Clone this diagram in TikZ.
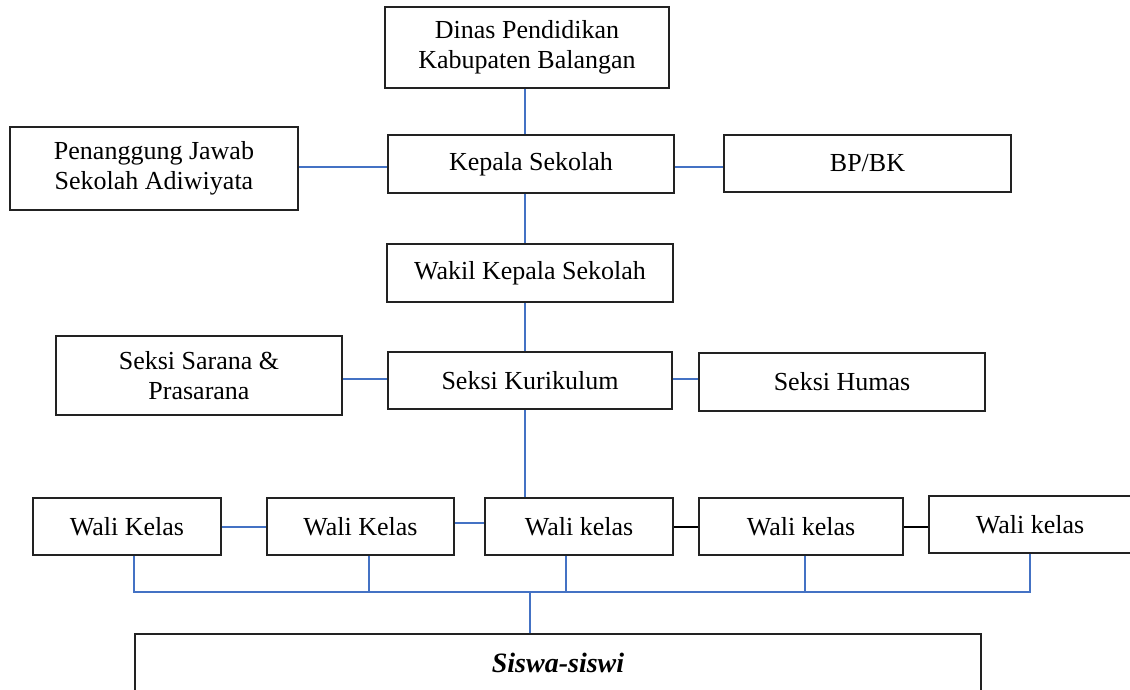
\documentclass[tikz,border=0pt]{standalone}
\usepackage{fontspec}
\setmainfont{Liberation Serif}
\usetikzlibrary{calc}
\definecolor{lineblue}{HTML}{4472C4}
\definecolor{boxline}{HTML}{222222}
\tikzset{
  orgbox/.style={draw=boxline, line width=1.5pt, fill=white, inner sep=0pt, align=center,
    font=\fontsize{26}{30}\selectfont},
  blueline/.style={draw=lineblue, line width=2pt},
  blackline/.style={draw=black, line width=2pt},
}
\begin{document}
\begin{tikzpicture}[x=1pt,y=-1pt]
\clip (0,0) rectangle (1130,689);
\fill[white] (0,0) rectangle (1130,689);
% guide coordinates
\coordinate (spine) at (525,0);
\coordinate (busy) at (0,592);
\coordinate (ky) at (0,167);
\coordinate (sy) at (0,379);
\coordinate (wy) at (0,523);
% boxes
\node[orgbox, minimum width=284pt, minimum height=81pt] (dinas) at (527,47.5) {Dinas Pendidikan\\Kabupaten Balangan};
\node[orgbox, minimum width=286pt, minimum height=58pt] (kepala) at (531,164) {Kepala Sekolah};
\node[orgbox, minimum width=288pt, minimum height=83pt] (pj) at (154,168.5) {Penanggung Jawab\\Sekolah Adiwiyata};
\node[orgbox, minimum width=287pt, minimum height=57pt] (bpbk) at (867.5,163.5) {BP/BK};
\node[orgbox, minimum width=286pt, minimum height=58pt] (wakil) at (530,273) {Wakil Kepala Sekolah};
\node[orgbox, minimum width=286pt, minimum height=79pt] (sarana) at (199,375.5) {Seksi Sarana \&\\Prasarana};
\node[orgbox, minimum width=284pt, minimum height=57pt] (kurikulum) at (530,380.5) {Seksi Kurikulum};
\node[orgbox, minimum width=286pt, minimum height=58pt] (humas) at (842,382) {Seksi Humas};
\node[orgbox, minimum width=188pt, minimum height=57pt] (w1) at (127,526.5) {Wali Kelas};
\node[orgbox, minimum width=187pt, minimum height=57pt] (w2) at (360.5,526.5) {Wali Kelas};
\node[orgbox, minimum width=188pt, minimum height=57pt] (w3) at (579,526.5) {Wali kelas};
\node[orgbox, minimum width=204pt, minimum height=57pt] (w4) at (801,526.5) {Wali kelas};
\node[orgbox, minimum width=202pt, minimum height=57pt] (w5) at (1030,524.5) {Wali kelas};
\node[orgbox, minimum width=846pt, minimum height=58pt, font=\fontsize{28}{32}\selectfont\bfseries\itshape] (siswa) at (558,663) {Siswa-siswi};
% vertical spine connectors
\draw[blueline] (dinas.south -| spine) -- (kepala.north -| spine);
\draw[blueline] (kepala.south -| spine) -- (wakil.north -| spine);
\draw[blueline] (wakil.south -| spine) -- (kurikulum.north -| spine);
\draw[blueline] (kurikulum.south -| spine) -- (w3.north -| spine);
% side connectors
\draw[blueline] (pj.east |- ky) -- (kepala.west |- ky);
\draw[blueline] (kepala.east |- ky) -- (bpbk.west |- ky);
\draw[blueline] (sarana.east |- sy) -- (kurikulum.west |- sy);
\draw[blueline] (kurikulum.east |- sy) -- (humas.west |- sy);
% wali kelas row
\draw[blueline] (w1.east) -- (w2.west);
\draw[blueline] (w2.east |- wy) -- (w3.west |- wy);
\draw[blackline] (w3.east) -- (w4.west);
\draw[blackline] (w4.east) -- (w4.east -| w5.west);
% bus
\coordinate (d1) at ($(w1.south)+(7,0)$);
\coordinate (d2) at ($(w2.south)+(8.5,0)$);
\coordinate (d3) at ($(w3.south)+(-13,0)$);
\coordinate (d4) at ($(w4.south)+(4,0)$);
\coordinate (d5) at ($(w5.south)+(0,0)$);
\draw[blueline] (d1) -- (d1 |- busy) -- (d5 |- busy) -- (d5);
\draw[blueline] (d2) -- (d2 |- busy);
\draw[blueline] (d3) -- (d3 |- busy);
\draw[blueline] (d4) -- (d4 |- busy);
\coordinate (bc) at (530,592);
\draw[blueline] (siswa.north -| bc) -- (bc);
\end{tikzpicture}
\end{document}
